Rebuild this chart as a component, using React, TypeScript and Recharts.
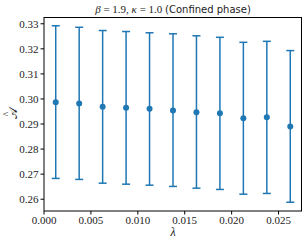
import {
  ScatterChart,
  Scatter,
  XAxis,
  YAxis,
  ErrorBar,
} from "recharts";

// lambda values (x) and measured A-hat with asymmetric error bars
const lambdas = [0.00125, 0.00375, 0.00625, 0.00875, 0.01125, 0.01375, 0.01625, 0.01875, 0.02125, 0.02375, 0.02625];
const means = [0.2987, 0.2982, 0.2969, 0.2965, 0.2961, 0.2954, 0.2947, 0.2943, 0.2923, 0.2927, 0.289];
const uppers = [0.3292, 0.3286, 0.3273, 0.3269, 0.3264, 0.326, 0.3252, 0.3246, 0.3226, 0.323, 0.3193];
const lowers = [0.2683, 0.2679, 0.2664, 0.266, 0.2656, 0.2651, 0.2644, 0.2639, 0.262, 0.2623, 0.2588];

const xTicks = [0, 0.005, 0.01, 0.015, 0.02, 0.025];
const yTicks = [0.26, 0.27, 0.28, 0.29, 0.3, 0.31, 0.32, 0.33];

const BLUE = "#1f77b4";
const SERIF = "Liberation Serif, DejaVu Serif, serif";
const SANS = "DejaVu Sans, Noto Sans, sans-serif";

const data = lambdas.map((x, i) => ({
  x,
  y: means[i],
  err: [means[i] - lowers[i], uppers[i] - means[i]],
}));

const tickStyle = { fontSize: 11, fill: "#222", fontFamily: SERIF };

export default function App() {
  return (
    <div style={{ position: "absolute", left: 0, top: 0, width: 307, height: 244, background: "#fff", fontFamily: SERIF }}>
      <ScatterChart width={307} height={244} margin={{ top: 17, right: 5, bottom: 13, left: 0 }}>
        <XAxis
          type="number"
          dataKey="x"
          domain={[0, 0.0275]}
          ticks={xTicks}
          tickFormatter={(v: number) => v.toFixed(3)}
          tick={tickStyle}
          tickSize={3.5}
          tickMargin={2}
          height={20}
          stroke="#000"
          allowDataOverflow
        />
        <YAxis
          type="number"
          dataKey="y"
          domain={[0.2553, 0.3327]}
          ticks={yTicks}
          tickFormatter={(v: number) => v.toFixed(2)}
          tick={tickStyle}
          tickSize={3.5}
          tickMargin={2}
          width={44}
          stroke="#000"
          allowDataOverflow
        />
        <Scatter data={data} fill={BLUE} isAnimationActive={false} shape={(p: any) => <circle cx={p.cx} cy={p.cy} r={3} fill={BLUE} />}>
          <ErrorBar dataKey="err" direction="y" width={4} stroke={BLUE} strokeWidth={1.5} isAnimationActive={false} />
        </Scatter>
      </ScatterChart>
      {/* plot frame (top and right spines) */}
      <div
        style={{
          position: "absolute",
          left: 44,
          top: 17,
          width: 258,
          height: 194,
          boxSizing: "border-box",
          borderTop: "1px solid #000",
          borderRight: "1px solid #000",
          pointerEvents: "none",
        }}
      />
      <div
        style={{
          position: "absolute",
          left: 44,
          width: 258,
          top: 3,
          textAlign: "center",
          fontSize: 11,
          lineHeight: "12px",
          color: "#222",
          whiteSpace: "nowrap",
        }}
      >
        <span style={{ fontFamily: SERIF }}>
          <i>β</i> = 1.9, <i>κ</i> = 1.0{" "}
        </span>
        <span style={{ fontFamily: SANS, fontSize: 10 }}>(Confined phase)</span>
      </div>
      {/* y label: calligraphic A with hat */}
      <div
        style={{
          position: "absolute",
          left: 3,
          top: 105,
          width: 20,
          height: 16,
          textAlign: "center",
          fontFamily: SERIF,
          fontSize: 12,
          lineHeight: "16px",
          color: "#222",
          transform: "rotate(-90deg)",
        }}
      >
        <span style={{ position: "relative", display: "inline-block" }}>
          𝒜
          <span style={{ position: "absolute", left: 2, top: -6, fontSize: 10 }}>^</span>
        </span>
      </div>
      <div
        style={{
          position: "absolute",
          left: 163,
          top: 226,
          width: 20,
          textAlign: "center",
          fontFamily: SERIF,
          fontStyle: "italic",
          fontSize: 12,
          lineHeight: "12px",
          color: "#222",
        }}
      >
        λ
      </div>
    </div>
  );
}
